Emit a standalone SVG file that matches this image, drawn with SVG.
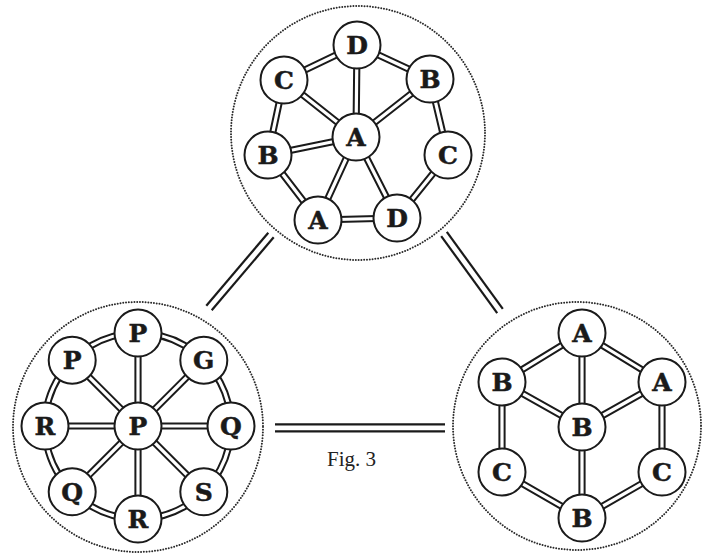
<svg xmlns="http://www.w3.org/2000/svg" xmlns:xlink="http://www.w3.org/1999/xlink" width="704" height="554" viewBox="0 0 704 554">
<style>
  .bg { fill: #ffffff; }
  .cluster { fill: none; stroke: #2a2a2a; stroke-width: 2; stroke-dasharray: 0 2.8; stroke-linecap: round; }
  .outer { fill: none; stroke: #1a1a1a; stroke-width: 7.2; }
  .inner { fill: none; stroke: #ffffff; stroke-width: 3.2; }
  .link { stroke: #1a1a1a; stroke-width: 2.2; fill: none; }
  .node circle { fill: #ffffff; stroke: #1a1a1a; stroke-width: 2; }
  .node text { font-family: "DejaVu Serif", "Liberation Serif", serif; font-weight: bold; font-size: 25px; fill: #1a1a1a; stroke: #1a1a1a; stroke-width: 0.5; text-anchor: middle; }
  .caption { font-family: "Liberation Serif", "DejaVu Serif", serif; font-size: 21px; fill: #222; }
</style>
<defs>
  <path id="topEdges" d="M357,45 L284,80 M357,45 L430,79 M357,45 L356,137 M284,80 L356,137 M284,80 L268,155 M430,79 L356,137 M430,79 L448,155 M268,155 L356,137 M268,155 L318,220 M356,137 L318,220 M356,137 L397,218 M318,220 L397,218 M448,155 L397,218"/>
  <path id="leftEdges" d="M138,426 L138,333 M138,426 L203.8,360.2 M138,426 L231,426 M138,426 L203.8,491.8 M138,426 L138,519 M138,426 L72.2,491.8 M138,426 L45,426 M138,426 L72.2,360.2 M231,426 A93,93 0 1 1 231,425.9"/>
  <path id="rightEdges" d="M582,333 L502,382 M582,333 L662,382 M582,333 L582,427 M502,382 L582,427 M662,382 L582,427 M502,382 L502,472 M662,382 L662,472 M582,427 L582,518 M502,472 L582,518 M662,472 L582,518"/>
</defs>
<rect class="bg" x="0" y="0" width="704" height="554"/>

<g id="clusters">
  <circle class="cluster" cx="358" cy="133" r="127"/>
  <circle class="cluster" cx="138" cy="427" r="125"/>
  <circle class="cluster" cx="577" cy="426" r="124"/>
</g>

<g id="connectors">
  <use xlink:href="#topEdges" class="outer"/>
  <use xlink:href="#topEdges" class="inner"/>
  <use xlink:href="#leftEdges" class="outer"/>
  <use xlink:href="#leftEdges" class="inner"/>
  <use xlink:href="#rightEdges" class="outer"/>
  <use xlink:href="#rightEdges" class="inner"/>
  <line class="link" x1="206.3" y1="305.7" x2="268.3" y2="232.7"/>
  <line class="link" x1="211.7" y1="310.3" x2="273.7" y2="237.3"/>
  <line class="link" x1="446.8" y1="231.9" x2="502.8" y2="308.9"/>
  <line class="link" x1="441.2" y1="236.1" x2="497.2" y2="313.1"/>
  <line class="link" x1="275" y1="424.3" x2="445" y2="424.3"/>
  <line class="link" x1="275" y1="431.3" x2="445" y2="431.3"/>
</g>

<g id="top-D1" class="node"><circle cx="357" cy="45" r="23.5"/><text x="357" y="54">D</text></g>
<g id="top-C1" class="node"><circle cx="284" cy="80" r="23.5"/><text x="284" y="89">C</text></g>
<g id="top-B1" class="node"><circle cx="430" cy="79" r="23.5"/><text x="430" y="88">B</text></g>
<g id="top-A1" class="node"><circle cx="356" cy="137" r="23.5"/><text x="356" y="146">A</text></g>
<g id="top-B2" class="node"><circle cx="268" cy="155" r="23.5"/><text x="268" y="164">B</text></g>
<g id="top-C2" class="node"><circle cx="448" cy="155" r="23.5"/><text x="448" y="164">C</text></g>
<g id="top-A2" class="node"><circle cx="318" cy="220" r="23.5"/><text x="318" y="229">A</text></g>
<g id="top-D2" class="node"><circle cx="397" cy="218" r="23.5"/><text x="397" y="227">D</text></g>

<g id="left-P-top" class="node"><circle cx="138" cy="333" r="23.5"/><text x="138" y="342">P</text></g>
<g id="left-G" class="node"><circle cx="203.8" cy="360.2" r="23.5"/><text x="203.8" y="369.2">G</text></g>
<g id="left-Q-right" class="node"><circle cx="231" cy="426" r="23.5"/><text x="231" y="435">Q</text></g>
<g id="left-S" class="node"><circle cx="203.8" cy="491.8" r="23.5"/><text x="203.8" y="500.8">S</text></g>
<g id="left-R-bottom" class="node"><circle cx="138" cy="519" r="23.5"/><text x="138" y="528">R</text></g>
<g id="left-Q-left" class="node"><circle cx="72.2" cy="491.8" r="23.5"/><text x="72.2" y="500.8">Q</text></g>
<g id="left-R-left" class="node"><circle cx="45" cy="426" r="23.5"/><text x="45" y="435">R</text></g>
<g id="left-P-left" class="node"><circle cx="72.2" cy="360.2" r="23.5"/><text x="72.2" y="369.2">P</text></g>
<g id="left-P-center" class="node"><circle cx="138" cy="426" r="23.5"/><text x="138" y="435">P</text></g>

<g id="right-A-top" class="node"><circle cx="582" cy="333" r="23.5"/><text x="582" y="342">A</text></g>
<g id="right-B-left" class="node"><circle cx="502" cy="382" r="23.5"/><text x="502" y="391">B</text></g>
<g id="right-A-right" class="node"><circle cx="662" cy="382" r="23.5"/><text x="662" y="391">A</text></g>
<g id="right-B-center" class="node"><circle cx="582" cy="427" r="23.5"/><text x="582" y="436">B</text></g>
<g id="right-C-left" class="node"><circle cx="502" cy="472" r="23.5"/><text x="502" y="481">C</text></g>
<g id="right-C-right" class="node"><circle cx="662" cy="472" r="23.5"/><text x="662" y="481">C</text></g>
<g id="right-B-bottom" class="node"><circle cx="582" cy="518" r="23.5"/><text x="582" y="527">B</text></g>

<text class="caption" x="327" y="466">Fig. 3</text>
</svg>
